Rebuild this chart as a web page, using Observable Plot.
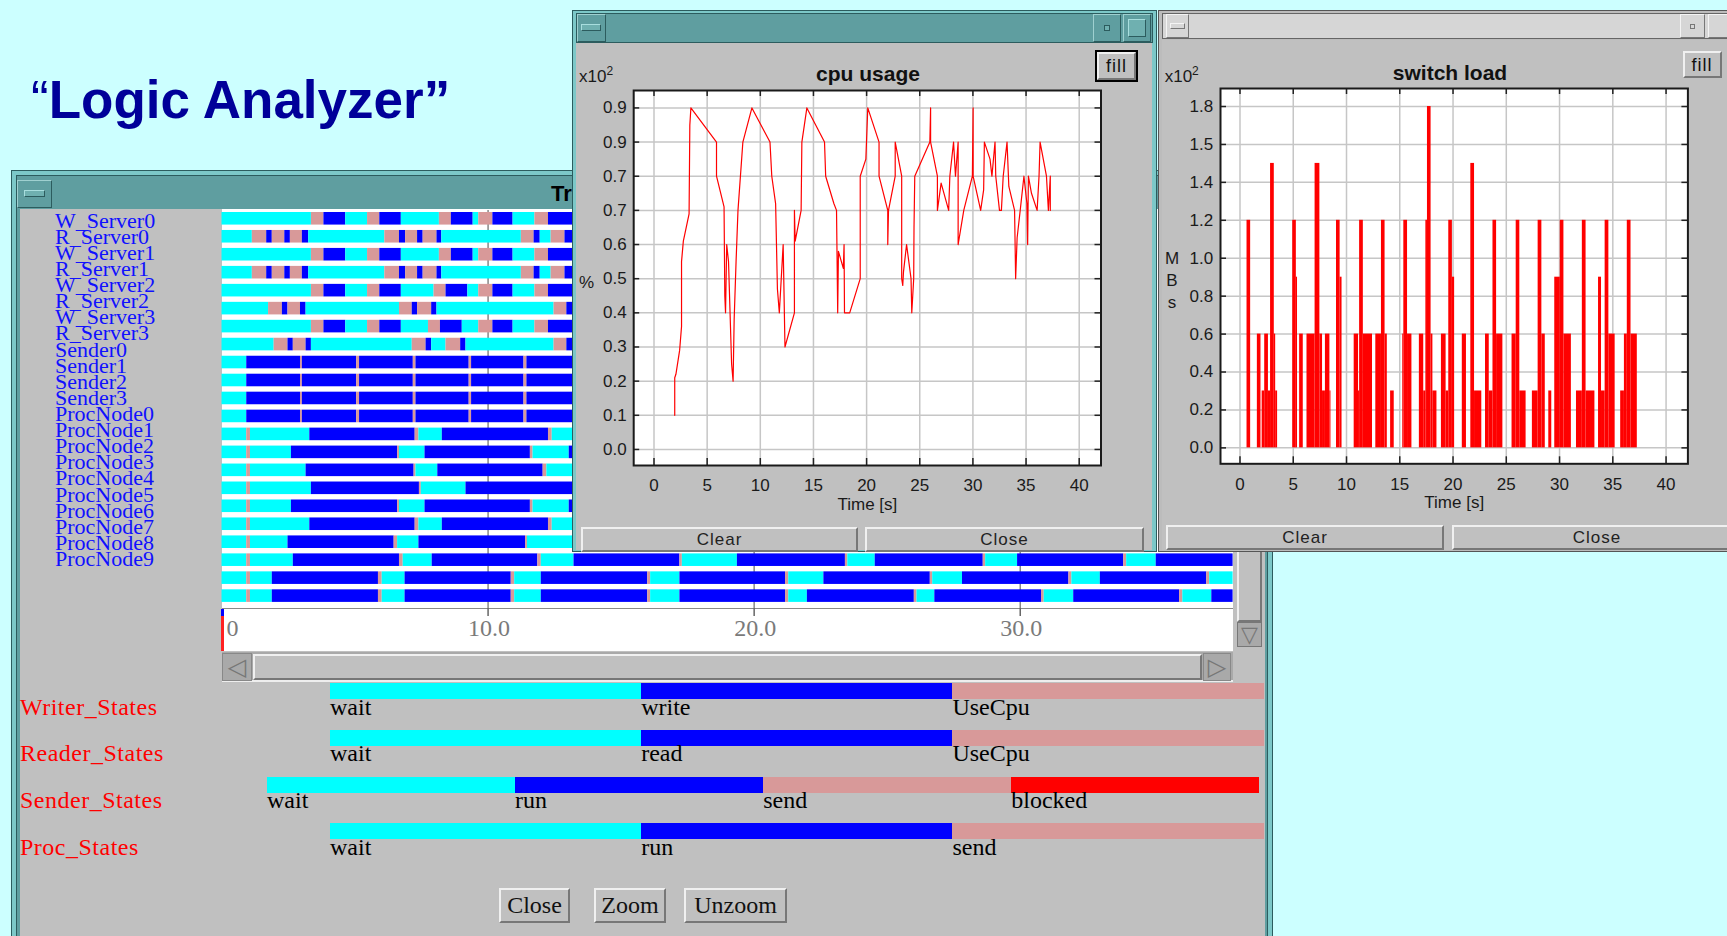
<!DOCTYPE html>
<html>
<head>
<meta charset="utf-8">
<title>Logic Analyzer</title>
<script src="https://cdn.jsdelivr.net/npm/d3@7"></script>
<script src="https://cdn.jsdelivr.net/npm/@observablehq/plot@0.6"></script>
<style>
html, body { margin:0; padding:0; }
body { width:1727px; height:936px; overflow:hidden; background:#ccffff; position:relative; font-family:"Liberation Sans", Arial, sans-serif; }
.a { position:absolute; box-sizing:border-box; }
.t { position:absolute; white-space:nowrap; }
.bev { background:#c0c0c0; border-top:2px solid #f0f0f0; border-left:2px solid #f0f0f0; border-bottom:2px solid #777; border-right:2px solid #777; }
.btn { display:flex; align-items:center; justify-content:center; white-space:nowrap; }
.plotwrap svg { overflow: visible; display:block; }
</style>
</head>
<body>
<script>
// ---------------- DATA ----------------
const rowNames = ["W_Server0","R_Server0","W_Server1","R_Server1","W_Server2","R_Server2","W_Server3","R_Server3",
  "Sender0","Sender1","Sender2","Sender3",
  "ProcNode0","ProcNode1","ProcNode2","ProcNode3","ProcNode4","ProcNode5","ProcNode6","ProcNode7","ProcNode8","ProcNode9"];

// state changes [time, state]  w = wait, b = busy (write/read/run), c = UseCpu/send, r = blocked
const writerA = [[0,"w"],[3.36,"c"],[3.83,"b"],[4.65,"w"],[5.47,"c"],[5.93,"b"],[6.74,"w"],[8.17,"c"],[8.62,"b"],[9.44,"w"],[9.65,"c"],[10.18,"b"],[10.94,"w"],[11.76,"c"],[12.27,"b"]];
const writerB = [[0,"w"],[3.36,"c"],[3.83,"b"],[4.65,"w"],[5.47,"c"],[5.93,"b"],[6.74,"w"],[7.97,"c"],[8.42,"b"],[9.24,"w"],[9.65,"c"],[10.18,"b"],[10.94,"w"],[11.76,"c"],[12.27,"b"]];
const writerC = [[0,"w"],[3.36,"c"],[3.83,"b"],[4.65,"w"],[5.47,"c"],[5.93,"b"],[6.74,"w"],[7.76,"c"],[8.21,"b"],[9.03,"w"],[9.65,"c"],[10.18,"b"],[10.94,"w"],[11.76,"c"],[12.27,"b"]];
const readerA = [[0,"w"],[1.14,"c"],[1.68,"b"],[1.89,"c"],[2.36,"b"],[2.57,"c"],[3.02,"b"],[3.26,"w"],[6.12,"c"],[6.67,"b"],[6.90,"c"],[7.35,"b"],[7.56,"c"],[8.08,"b"],[8.26,"w"],[11.25,"c"],[11.73,"b"],[11.96,"w"],[12.37,"c"],[12.89,"b"]];
const readerB = [[0,"w"],[1.75,"c"],[2.27,"b"],[2.48,"c"],[2.95,"b"],[3.16,"w"],[6.67,"c"],[7.15,"b"],[7.35,"c"],[7.88,"b"],[8.08,"w"],[12.48,"c"],[12.96,"b"]];
const readerC = [[0,"w"],[1.96,"c"],[2.48,"b"],[2.68,"c"],[3.16,"b"],[3.36,"w"],[7.15,"c"],[7.67,"b"],[7.88,"w"],[8.42,"c"],[8.97,"b"],[9.17,"w"],[12.48,"c"],[12.96,"b"]];
const senderA = [[0,"w"],[0.93,"b"],[2.95,"c"],[3.02,"b"],[5.06,"c"],[5.17,"b"],[7.19,"c"],[7.29,"b"],[9.29,"c"],[9.38,"b"],[11.35,"c"],[11.46,"b"]];
const procA = [[0,"w"],[0.93,"c"],[1.07,"w"],[3.30,"b"],[7.26,"c"],[7.40,"w"],[8.28,"b"],[12.27,"c"],[12.41,"w"]];
const procB = [[0,"w"],[0.93,"c"],[1.07,"w"],[2.61,"b"],[6.60,"c"],[6.67,"w"],[7.63,"b"],[11.59,"c"],[11.69,"w"],[13.05,"b"]];
const procC = [[0,"w"],[0.93,"c"],[1.07,"w"],[3.16,"b"],[7.22,"c"],[7.29,"w"],[8.11,"b"],[12.07,"c"],[12.21,"w"]];
const procD = [[0,"w"],[0.93,"c"],[1.07,"w"],[3.36,"b"],[7.42,"c"],[7.49,"w"],[9.17,"b"]];
const procE = [[0,"w"],[0.93,"c"],[1.07,"w"],[2.48,"b"],[6.47,"c"],[6.60,"w"],[7.40,"b"],[11.41,"c"],[11.48,"w"]];
const procF = [[0,"w"],[0.93,"c"],[1.07,"w"],[2.68,"b"],[6.67,"c"],[6.81,"w"],[7.90,"b"],[11.87,"c"],[12.0,"w"],[13.23,"b"],[17.21,"c"],[17.30,"w"],[19.37,"b"],[23.43,"c"],[23.52,"w"],[24.55,"b"],[28.61,"c"],[28.70,"w"],[29.90,"b"],[33.89,"c"],[34.0,"w"],[35.11,"b"]];
const procG = [[0,"w"],[0.93,"c"],[1.07,"w"],[1.89,"b"],[5.88,"c"],[6.02,"w"],[6.88,"b"],[10.87,"c"],[11.0,"w"],[12.0,"b"],[16.0,"c"],[16.11,"w"],[17.21,"b"],[21.18,"c"],[21.30,"w"],[22.62,"b"],[26.62,"c"],[26.71,"w"],[27.83,"b"],[31.83,"c"],[31.94,"w"],[33.01,"b"],[37.01,"c"],[37.12,"w"]];
const procH = [[0,"w"],[0.93,"c"],[1.07,"w"],[1.89,"b"],[5.88,"c"],[6.02,"w"],[6.88,"b"],[10.87,"c"],[11.0,"w"],[12.0,"b"],[16.0,"c"],[16.11,"w"],[17.21,"b"],[21.18,"c"],[21.30,"w"],[22.0,"b"],[26.02,"c"],[26.12,"w"],[26.79,"b"],[30.80,"c"],[30.90,"w"],[32.01,"b"],[35.99,"c"],[36.11,"w"],[37.2,"b"]];
const rowChanges = [writerA, readerA, writerA, readerA, writerB, readerB, writerC, readerC,
  senderA, senderA, senderA, senderA,
  procA, procB, procC, procD, procB, procA, procE, procF, procG, procH];
const rowEnds = [14.5,14.5,14.5,14.5,14.5,14.5,14.5,14.5,14.5,14.5,14.5,14.5,14.5,14.5,14.5,14.5,14.5,14.5,14.5,38,38,38];
const stateCodes = ["w","b","c","r"];
const stateColors = ["#00ffff","#0000ff","#d89999","#ff0000"];
const ganttTicks = [0,10,20,30];
const ganttTickLabels = ["0","10.0","20.0","30.0"];

// legend
const legendNames = ["Writer_States","Reader_States","Sender_States","Proc_States"];
const writerStates = ["wait","write","UseCpu"];
const readerStates = ["wait","read","UseCpu"];
const senderStates = ["wait","run","send","blocked"];
const procStates = ["wait","run","send"];

// cpu usage (x10^2 %)
const cpuTime = [1.95,1.95,2.06,2.41,2.59,2.59,2.76,3.30,3.37,3.47,5.88,5.88,6.59,6.66,6.73,6.84,7.01,7.30,7.44,7.54,7.72,7.90,8.36,9.21,
  10.91,11.08,11.44,11.61,11.79,11.97,12.15,12.32,13.21,13.21,13.28,13.84,13.91,14.38,16.04,16.15,16.92,17.17,17.28,17.35,17.81,17.88,17.92,18.41,
  19.40,19.40,19.93,20.11,21.17,21.17,21.99,21.99,22.06,22.69,22.69,23.30,23.30,23.40,23.47,23.76,24.18,24.25,24.43,24.46,24.53,25.95,26.02,26.02,
  26.66,26.66,27.01,27.72,27.83,28.18,28.36,28.61,28.61,29.14,29.95,30.02,30.02,30.73,31.01,31.08,31.61,31.79,32.08,32.15,32.50,32.68,32.85,33.21,
  33.38,33.92,34.02,34.16,34.45,34.80,35.08,35.15,35.22,35.51,36.04,36.22,36.32,36.92,37.10,37.28,37.28];
const cpuValue = [0.10,0.21,0.22,0.29,0.36,0.55,0.61,0.69,0.95,1.0,0.9,0.8,0.71,0.45,0.40,0.60,0.55,0.25,0.20,0.38,0.55,0.70,0.90,1.0,
  0.9,0.8,0.72,0.47,0.40,0.50,0.60,0.30,0.40,0.70,0.61,0.70,0.90,1.0,0.9,0.8,0.72,0.70,0.40,0.58,0.53,0.60,0.40,0.40,
  0.50,0.80,0.85,1.0,0.9,0.8,0.70,0.60,0.70,0.80,0.90,0.80,0.50,0.48,0.52,0.60,0.50,0.40,0.50,0.65,0.80,0.90,1.0,0.90,
  0.80,0.70,0.78,0.70,0.80,0.90,0.80,0.90,0.60,0.70,0.80,1.0,0.80,0.70,0.76,0.90,0.85,0.80,0.90,0.80,0.70,0.70,0.80,0.90,
  0.77,0.70,0.50,0.62,0.70,0.80,0.72,0.60,0.80,0.75,0.70,0.80,0.90,0.80,0.70,0.80,0.70];
const cpuXTicks = [0,5,10,15,20,25,30,35,40];
const cpuYTicks = [0,0.1,0.2,0.3,0.4,0.5,0.6,0.7,0.8,0.9,1.0];
const cpuYLabels = ["0.0","0.1","0.2","0.3","0.4","0.5","0.6","0.7","0.7","0.9","0.9"];

// switch load (x10^2 MB/s): [start, end, load]
const switchBars = [[0.66,1.0,1.2],
  [1.63,1.97,0.6],[2.08,2.32,0.3],[2.32,2.67,0.6],[2.67,2.87,0.3],[2.87,3.22,1.5],[3.22,3.35,0.6],[3.35,3.53,0.3],
  [4.95,5.29,1.2],[5.29,5.40,0.9],[5.6,5.94,0.6],[6.29,7.05,0.6],[7.05,7.5,1.5],[7.5,7.75,0.6],[7.75,8.02,0.3],[8.02,8.44,0.6],[8.44,8.54,0.3],[9.06,9.4,1.2],[9.4,9.58,0.9],
  [10.72,11.13,0.6],[11.13,11.23,0.3],[11.23,11.58,1.2],[11.58,12.44,0.6],[12.75,13.28,0.6],[13.28,13.62,1.2],[13.62,13.83,0.6],[14.14,14.48,0.3],
  [15.28,15.38,0.6],[15.38,15.73,1.2],[15.73,16.14,0.6],[16.84,17.25,0.6],[17.25,17.45,0.3],[17.45,17.6,1.2],[17.6,17.94,1.8],[17.94,18.11,0.6],[18.11,18.49,0.3],[18.91,19.35,0.6],[19.35,19.6,0.3],[19.6,19.94,1.2],[19.94,20.15,0.9],
  [20.87,21.26,0.6],[21.67,22.02,1.5],[22.02,22.7,0.3],[23.05,23.4,0.6],[23.4,23.75,0.3],[23.75,24.09,1.2],[24.09,24.68,0.6],
  [25.54,25.93,0.6],[25.93,26.27,1.2],[26.27,26.86,0.3],[27.45,27.99,0.3],[27.99,28.34,1.2],[28.34,28.66,0.6],[28.99,29.27,0.3],[29.55,30.07,0.9],[30.07,30.41,1.2],[30.41,31.11,0.6],
  [31.59,32.14,0.3],[32.14,32.49,1.2],[32.49,33.32,0.3],[33.66,33.94,0.9],[33.94,34.28,0.3],[34.28,34.63,1.2],[34.63,35.22,0.6],
  [35.74,36.09,0.3],[36.09,36.36,0.6],[36.36,36.71,1.2],[36.71,37.3,0.6]];
const switchXTicks = [0,5,10,15,20,25,30,35,40];
const switchYTicks = [0,0.2,0.4,0.6,0.8,1.0,1.2,1.4,1.6,1.8];
const switchYLabels = ["0.0","0.2","0.4","0.6","0.8","1.0","1.2","1.4","1.5","1.8"];

// ---------------- HELPERS ----------------
const body = document.body;
function box(x, y, w, h, css = "", cls = "a") {
  const d = document.createElement("div");
  d.className = cls;
  d.style.cssText = `left:${x}px;top:${y}px;width:${w}px;height:${h}px;` + css;
  body.appendChild(d);
  return d;
}
function txt(s, x, base, size, css = "", anchor = "start") {
  const d = document.createElement("div");
  d.className = "t";
  d.textContent = s;
  const tr = anchor === "middle" ? "transform:translateX(-50%);" : anchor === "end" ? "transform:translateX(-100%);" : "";
  d.style.cssText = `left:${x}px;top:${base - 0.845 * size}px;font-size:${size}px;line-height:${size}px;` + css + tr;
  body.appendChild(d);
  return d;
}
function button(label, x, y, w, h, css) {
  const d = box(x, y, w, h, css, "a bev btn");
  d.textContent = label;
  return d;
}
function place(svg, x, y, w) {
  const d = document.createElement("div");
  d.className = "a plotwrap";
  d.style.left = x + "px"; d.style.top = y + "px"; d.style.width = w + "px";
  d.appendChild(svg);
  body.appendChild(d);
}

// ---------------- TITLE ----------------
const title = txt("", 31, 118, 53, "font-weight:bold;color:#000099;");
title.innerHTML = '<span style="font-weight:normal">\u201C</span>Logic Analyzer\u201D';

// ---------------- LEFT WINDOW ----------------
box(11, 170, 1262, 800, "background:#7cc8c8;border:1px solid #2c5c5e;");
box(16, 175, 1252, 790, "background:#5f9ea0;border:1px solid #2c5c5e;");
box(17, 180, 35, 28, "background:#5f9ea0;border:1px solid #2c5c5e;border-top-color:#9fd0d0;border-left-color:#9fd0d0;");
box(24, 190, 21, 7, "background:#6fb0b0;border:1px solid #2c5c5e;border-top-color:#a8dede;border-left-color:#a8dede;");
txt("Trace", 551, 201.7, 22, "font-weight:bold;color:#000;");
box(20, 209, 1245, 760, "background:#c0c0c0;");

// row labels
rowNames.forEach((n, i) => txt(n, 55, 228.3 + i * 16.11, 22, "font-family:'Liberation Serif',serif;color:#1010ff;"));

// plot white area and axis line
box(221.5, 209, 1011.5, 442, "background:#ffffff;");
box(221.5, 607.5, 1011.5, 1.5, "background:#8a8a8a;");

// gantt
const segments = rowNames.flatMap((name, r) => rowChanges[r].map(([t, s], i, arr) => ({
  row: name, start: t, end: i + 1 < arr.length ? arr[i + 1][0] : rowEnds[r], state: s
})));
const gantt = Plot.plot({
  width: 1050, height: 450,
  marginLeft: 21.5, marginRight: 17.4, marginTop: 5, marginBottom: 47,
  style: {background: "transparent", fontFamily: "'Liberation Serif', serif"},
  x: {domain: [0, 38]},
  y: {type: "band", domain: rowNames, range: [7, 396.9], paddingInner: 0.3, paddingOuter: 0, round: false, axis: null},
  color: {domain: stateCodes, range: stateColors},
  marks: [
    Plot.gridX(ganttTicks.slice(1), {stroke: "#888", strokeOpacity: 1, strokeWidth: 1.5}),
    Plot.barX(segments, {x1: "start", x2: "end", y: "row", fill: "state"}),
    Plot.axisX(ganttTicks.slice(1), {tickSize: 8, tickFormat: () => "", label: null, stroke: "#666", strokeWidth: 1.5}),
    Plot.text(ganttTicks.slice(0, 1), {x: d => d, frameAnchor: "bottom", dy: 27.3, dx: 4.5, textAnchor: "start",
      text: (d) => ganttTickLabels[ganttTicks.indexOf(d)], fontSize: 24, fill: "#7a7a7a"}),
    Plot.text(ganttTicks.slice(1), {x: d => d, frameAnchor: "bottom", dy: 27.3, dx: 1, textAnchor: "middle",
      text: (d) => ganttTickLabels[ganttTicks.indexOf(d)], fontSize: 24, fill: "#7a7a7a"})
  ]
});
place(gantt, 200, 205, 1050);

// cursor at 0
box(221, 609, 2.5, 7, "background:#0000ff;");
box(221, 616, 2.5, 35, "background:#ff2020;");

// vertical scrollbar
box(1234, 209, 31, 442, "background:#c0c0c0;");
box(1237, 209, 25, 413, "", "a bev");
const va = box(1237, 622, 25, 25, "background:#a9a9a9;border:1px solid #777;display:flex;align-items:center;justify-content:center;color:#777;font-size:22px;font-family:'DejaVu Sans';line-height:25px;");
va.textContent = "\u25BD";
// horizontal scrollbar
box(221.5, 652, 1011, 30, "background:#a9a9a9;border-bottom:2px solid #eee;");
box(253, 654, 949, 26, "", "a bev");
const ha1 = box(222, 653, 30, 28, "background:#a9a9a9;border:1px solid #888;display:flex;align-items:center;justify-content:center;color:#777;font-size:24px;font-family:'DejaVu Sans';");
ha1.textContent = "\u25C1";
const ha2 = box(1203, 653, 28, 28, "background:#a9a9a9;border:1px solid #888;display:flex;align-items:center;justify-content:center;color:#777;font-size:24px;font-family:'DejaVu Sans';");
ha2.textContent = "\u25B7";

// legend
const legendSets = [writerStates, readerStates, senderStates, procStates];
legendNames.forEach((name, i) => {
  const top = 683.3 + i * 46.7;
  const base = top + 31.7;
  txt(name, 20, base, 24, "font-family:'Liberation Serif',serif;color:#ff0000;letter-spacing:0.5px;");
  const states = legendSets[i];
  const n = states.length;
  const x0 = n === 4 ? 267 : 330;
  const w = n === 4 ? 248.1 : 311.2;
  states.forEach((s, j) => {
    box(x0 + j * w, top, w, 16, `background:${stateColors[j]};`);
    txt(s, x0 + j * w, base, 24, "font-family:'Liberation Serif',serif;color:#000;");
  });
});

// bottom buttons
const bcss = "font-family:'Liberation Serif',serif;font-size:24px;color:#111;";
button("Close", 499, 888, 71, 35, bcss);
button("Zoom", 594, 888, 72, 35, bcss);
button("Unzoom", 684, 888, 103, 35, bcss);

// ---------------- CPU WINDOW ----------------
box(572, 10, 585, 542, "background:#7cc8c8;border:1px solid #2c5c5e;");
box(576, 13, 577, 30, "background:#5f9ea0;border:1px solid #2c5c5e;");
box(577, 14, 29, 28, "background:#5f9ea0;border:1px solid #2c5c5e;border-top-color:#9fd0d0;border-left-color:#9fd0d0;");
box(581, 24, 20, 7, "background:#6fb0b0;border:1px solid #2c5c5e;border-top-color:#a8dede;border-left-color:#a8dede;");
box(1093, 14, 28, 28, "background:#5f9ea0;border:1px solid #2c5c5e;border-top-color:#9fd0d0;border-left-color:#9fd0d0;");
box(1104, 25, 6, 6, "background:#6fb0b0;border:1px solid #2c5c5e;");
box(1123, 14, 28, 28, "background:#5f9ea0;border:1px solid #2c5c5e;border-top-color:#9fd0d0;border-left-color:#9fd0d0;");
box(1128, 19, 18, 18, "background:#6fb0b0;border:1px solid #2c5c5e;border-top-color:#a8dede;border-left-color:#a8dede;");
box(576, 43, 576, 507, "background:#c0c0c0;");

function chartPlot(opts) {
  const {xDomain, yDomain, xTicks, yTicks, yLabels, W, H, mL, mR, mT, mB, padX, padY, data} = opts;
  const fw = W - mL - mR, fh = H - mT - mB;
  return Plot.plot({
    width: W, height: H, marginLeft: mL, marginRight: mR, marginTop: mT, marginBottom: mB,
    style: {background: "transparent", fontFamily: "'Liberation Sans', Arial, sans-serif", fontSize: "17px", color: "#1a1a1a"},
    x: {domain: xDomain, label: null},
    y: {domain: yDomain, label: null},
    marks: [
      Plot.frame({fill: "#ffffff"}),
      Plot.gridX(xTicks, {stroke: "#c6c6c6", strokeOpacity: 1, strokeWidth: 1.5}),
      Plot.gridY(yTicks, {stroke: "#c6c6c6", strokeOpacity: 1, strokeWidth: 1.5}),
      ...data,
      Plot.ruleX(xTicks, {insetBottom: fh - 6, stroke: "#222", strokeWidth: 1.5}),
      Plot.ruleX(xTicks, {insetTop: fh - 7, stroke: "#222", strokeWidth: 1.5}),
      Plot.ruleY(yTicks, {insetRight: fw - 6, stroke: "#222", strokeWidth: 1.5}),
      Plot.ruleY(yTicks, {insetLeft: fw - 6, stroke: "#222", strokeWidth: 1.5}),
      Plot.frame({stroke: "#1a1a1a", strokeWidth: 2}),
      Plot.axisX(xTicks, {tickSize: 0, tickPadding: padX, label: null, tickFormat: d => String(d), fill: "#1a1a1a"}),
      Plot.axisY(yTicks, {tickSize: 0, tickPadding: padY, label: null, tickFormat: d => yLabels[yTicks.indexOf(d)], fill: "#1a1a1a"}),
      Plot.text(["Time [s]"], {frameAnchor: "bottom", dy: 44.6, text: d => d, fill: "#1a1a1a"})
    ]
  });
}

const cpuPoints = cpuTime.map((t, i) => ({t, v: cpuValue[i]}));
const cpuPlot = chartPlot({
  xDomain: [-1.91, 42.05], yDomain: [-0.047, 1.051], xTicks: cpuXTicks, yTicks: cpuYTicks, yLabels: cpuYLabels,
  W: 575, H: 480, mL: 60.2, mR: 47.5, mT: 47, mB: 58, padX: 13, padY: 7,
  data: [Plot.line(cpuPoints, {x: "t", y: "v", stroke: "#ff0000", strokeWidth: 1.2})]
});
place(cpuPlot, 573, 43, 575);

const x10a = txt("", 579, 77, 17, "color:#1a1a1a;");
x10a.innerHTML = 'x10<sup style="font-size:12px;vertical-align:7px;">2</sup>';
txt("cpu usage", 868, 80.7, 21, "font-weight:bold;color:#111;", "middle");
txt("%", 579, 288, 17, "color:#1a1a1a;");
box(1095, 50, 43, 32, "background:#000;");
button("fill", 1097, 52, 39, 28, "font-size:18px;color:#111;letter-spacing:1px;");
button("Clear", 581, 527, 277, 25, "font-size:17px;color:#222;letter-spacing:1px;");
button("Close", 865, 527, 279, 25, "font-size:17px;color:#222;letter-spacing:1px;");

// ---------------- SWITCH LOAD WINDOW ----------------
box(1158, 10, 580, 542, "background:#bcbcbc;border:1px solid #555;");
box(1162, 13, 580, 26, "background:#d6d6d6;border:1px solid #666;");
box(1166, 14, 23, 24, "background:#d6d6d6;border:1px solid #777;border-top-color:#f4f4f4;border-left-color:#f4f4f4;");
box(1170, 23, 15, 6, "background:#d6d6d6;border:1px solid #777;border-top-color:#f4f4f4;border-left-color:#f4f4f4;");
box(1680, 14, 25, 24, "background:#d6d6d6;border:1px solid #777;border-top-color:#f4f4f4;border-left-color:#f4f4f4;");
box(1690, 24, 5, 5, "background:#d6d6d6;border:1px solid #777;");
box(1708, 14, 30, 24, "background:#d6d6d6;border:1px solid #777;border-top-color:#f4f4f4;border-left-color:#f4f4f4;");
box(1162, 40, 570, 510, "background:#c0c0c0;");

const switchPlot = chartPlot({
  xDomain: [-1.83, 42.05], yDomain: [-0.084, 1.895], xTicks: switchXTicks, yTicks: switchYTicks, yLabels: switchYLabels,
  W: 567, H: 480, mL: 60, mR: 39.6, mT: 45, mB: 59.7, padX: 14, padY: 7.4,
  data: [Plot.rect(switchBars, {x1: d => d[0], x2: d => d[1], y1: 0, y2: d => d[2], fill: "#ff0000"})]
});
place(switchPlot, 1160, 43, 567);

const x10b = txt("", 1164.7, 77, 17, "color:#1a1a1a;");
x10b.innerHTML = 'x10<sup style="font-size:12px;vertical-align:7px;">2</sup>';
txt("switch load", 1450, 80, 21, "font-weight:bold;color:#111;", "middle");
txt("M", 1172, 264, 17, "color:#1a1a1a;", "middle");
txt("B", 1172, 286, 17, "color:#1a1a1a;", "middle");
txt("s", 1172, 308, 17, "color:#1a1a1a;", "middle");
box(1683, 51, 39, 27, "", "a bev");
txt("fill", 1702, 71, 18, "color:#111;letter-spacing:1px;", "middle");
button("Clear", 1166, 525, 278, 25, "font-size:17px;color:#222;letter-spacing:1px;");
button("Close", 1452, 525, 290, 25, "font-size:17px;color:#222;letter-spacing:1px;");
</script>
</body>
</html>
